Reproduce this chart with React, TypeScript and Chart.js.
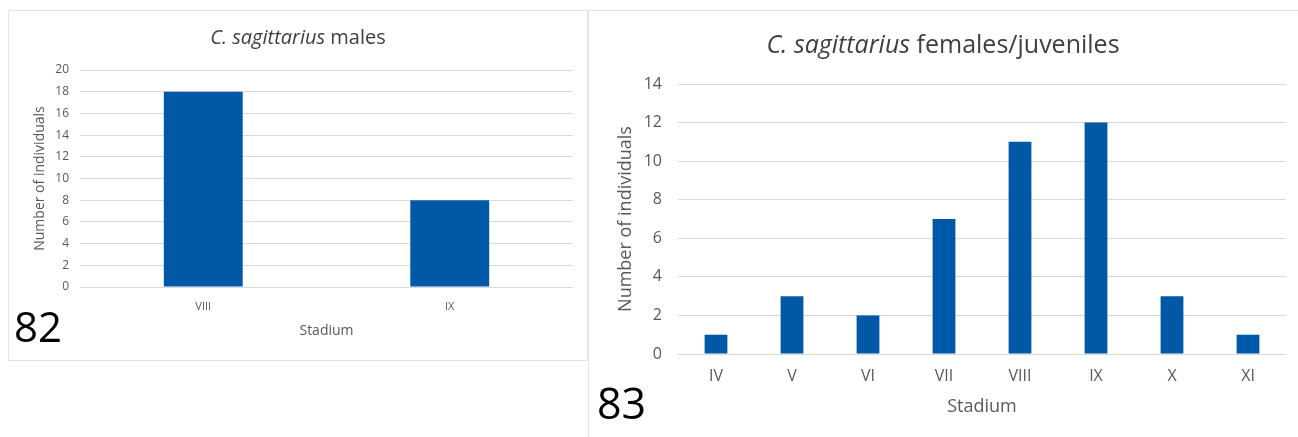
import React, { useEffect, useRef } from "react";
import { Chart, registerables } from "chart.js";

Chart.register(...registerables);

// ---- data ----
const malesCategories = ["VIII", "IX"];
const malesValues = [18, 8];
const malesYMax = 20;
const malesYStep = 2;

const femalesCategories = ["IV", "V", "VI", "VII", "VIII", "IX", "X", "XI"];
const femalesValues = [1, 3, 2, 7, 11, 12, 3, 1];
const femalesYMax = 14;
const femalesYStep = 2;

const speciesName = "C. sagittarius";
const malesTitleRest = " males";
const femalesTitleRest = " females/juveniles";
const yAxisTitle = "Number of individuals";
const xAxisTitle = "Stadium";
const malesFigNo = "82";
const femalesFigNo = "83";

const FONT = "'Open Sans', 'Noto Sans', 'DejaVu Sans', sans-serif";
const BAR = "#0058a6";
const GRID = "#d9d9d9";
const TEXT = "#595959";

type Cfg = {
  labels: string[];
  values: number[];
  max: number;
  step: number;
  width: number;
  height: number;
  padTop: number;
  padRight: number;
  yWidth: number;
  xHeight: number;
  yTitlePad: number;
  yTickPad: number;
  xTickPad: number;
  xTitlePad: number;
  tickSize: number;
  xTickSize: number;
  titleSize: number;
  barPct: number;
};

function BarChart({ cfg }: { cfg: Cfg }) {
  const ref = useRef<HTMLCanvasElement | null>(null);
  useEffect(() => {
    if (!ref.current) return;
    const chart = new Chart(ref.current, {
      type: "bar",
      data: {
        labels: cfg.labels,
        datasets: [
          {
            data: cfg.values,
            backgroundColor: BAR,
            borderWidth: 0,
            barPercentage: cfg.barPct,
            categoryPercentage: 1,
          },
        ],
      },
      options: {
        responsive: false,
        animation: false,
        layout: { padding: { top: cfg.padTop, right: cfg.padRight, left: 0, bottom: 0 } },
        plugins: { legend: { display: false }, tooltip: { enabled: false }, title: { display: false } },
        scales: {
          x: {
            grid: { display: false, drawTicks: false },
            border: { display: false },
            ticks: { color: TEXT, font: { family: FONT, size: cfg.xTickSize }, padding: cfg.xTickPad, maxRotation: 0 },
            title: {
              display: true,
              text: xAxisTitle,
              color: TEXT,
              font: { family: FONT, size: cfg.titleSize },
              padding: { top: 0, bottom: cfg.xTitlePad },
            },
            afterFit: (s: any) => {
              s.height = cfg.xHeight;
            },
          },
          y: {
            min: 0,
            max: cfg.max,
            grid: { color: GRID, lineWidth: 1, drawTicks: false },
            border: { display: false },
            ticks: { stepSize: cfg.step, color: TEXT, font: { family: FONT, size: cfg.tickSize }, padding: cfg.yTickPad },
            title: {
              display: true,
              text: yAxisTitle,
              color: TEXT,
              font: { family: FONT, size: cfg.titleSize },
              padding: { top: cfg.yTitlePad, bottom: 0 },
            },
            afterFit: (s: any) => {
              s.width = cfg.yWidth;
            },
          },
        },
      },
    });
    return () => chart.destroy();
  }, [cfg]);
  return <canvas ref={ref} width={cfg.width} height={cfg.height} style={{ display: "block" }} />;
}

const leftCfg: Cfg = {
  labels: malesCategories,
  values: malesValues,
  max: malesYMax,
  step: malesYStep,
  width: 588,
  height: 360,
  padTop: 70,
  padRight: 15,
  yWidth: 80,
  xHeight: 73,
  yTitlePad: 32,
  yTickPad: 11,
  xTickPad: 13,
  xTitlePad: 21,
  tickSize: 12,
  xTickSize: 11,
  titleSize: 14,
  barPct: 0.32,
};

const rightCfg: Cfg = {
  labels: femalesCategories,
  values: femalesValues,
  max: femalesYMax,
  step: femalesYStep,
  width: 710,
  height: 437,
  padTop: 84,
  padRight: 12,
  yWidth: 90,
  xHeight: 83,
  yTitlePad: 27,
  yTickPad: 16,
  xTickPad: 13,
  xTitlePad: 19,
  tickSize: 16,
  xTickSize: 16,
  titleSize: 18,
  barPct: 0.3,
};

export default function App() {
  return (
    <div style={{ position: "absolute", left: 0, top: 0, width: 1298, height: 437, background: "#fff", overflow: "hidden", fontFamily: FONT }}>
      {/* left panel */}
      <div style={{ position: "absolute", left: 0, top: 0 }}>
        <BarChart cfg={leftCfg} />
      </div>
      <div style={{ position: "absolute", left: 8, top: 10, width: 580, height: 351, border: "1px solid #e3e3e3", boxSizing: "border-box", pointerEvents: "none" }} />
      <div style={{ position: "absolute", left: 8, width: 580, top: 24, textAlign: "center", fontSize: 20, color: "#404040", lineHeight: "26px" }}>
        <i>{speciesName}</i>
        {malesTitleRest}
      </div>
      <div style={{ position: "absolute", left: 14, top: 298, fontSize: 42, color: "#000", lineHeight: "56px" }}>{malesFigNo}</div>

      {/* right panel */}
      <div style={{ position: "absolute", left: 588, top: 0 }}>
        <BarChart cfg={rightCfg} />
      </div>
      <div style={{ position: "absolute", left: 588, top: 10, width: 710, height: 427, borderLeft: "1px solid #e3e3e3", borderTop: "1px solid #e3e3e3", boxSizing: "border-box", pointerEvents: "none" }} />
      <div style={{ position: "absolute", left: 588, width: 710, top: 27, textAlign: "center", fontSize: 25, color: "#404040", lineHeight: "32px" }}>
        <i>{speciesName}</i>
        {femalesTitleRest}
      </div>
      <div style={{ position: "absolute", left: 597, top: 375, fontSize: 43, color: "#000", lineHeight: "56px" }}>{femalesFigNo}</div>
    </div>
  );
}
